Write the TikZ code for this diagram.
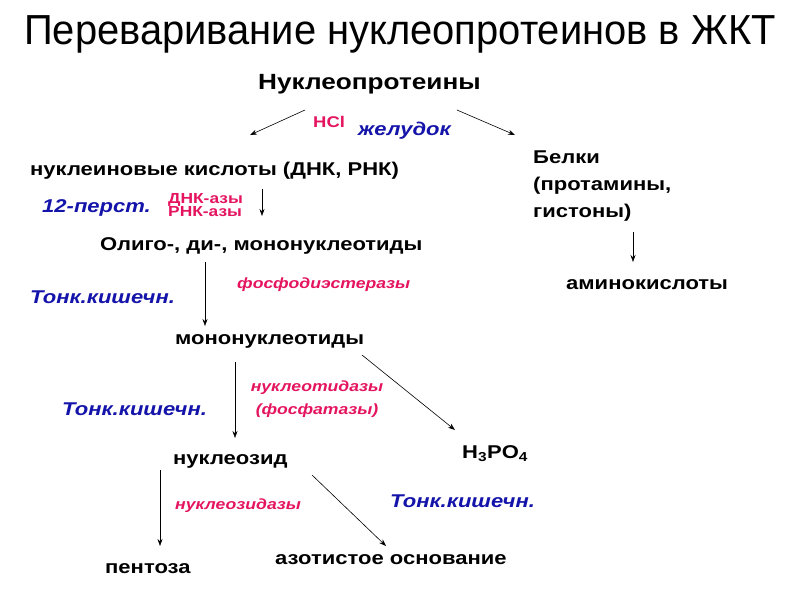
\documentclass[tikz,border=0pt]{standalone}
\usepackage{fontspec}
\setmainfont{Liberation Sans}[FakeStretch=1.19]
\newfontfamily\titlefont{Liberation Sans}[FakeStretch=0.95]
\usepackage{tikz}
\usetikzlibrary{arrows.meta}

\definecolor{enzcol}{RGB}{228,20,95}
\definecolor{sitecol}{RGB}{20,20,170}

\tikzset{
  term/.style={font=\bfseries\fontsize{18.5}{27}\selectfont, inner sep=0pt, anchor=west},
  enzyme/.style={font=\bfseries\itshape\fontsize{14.8}{23}\selectfont, text=enzcol, inner sep=0pt, anchor=west},
  site/.style={font=\bfseries\itshape\fontsize{18.5}{20}\selectfont, text=sitecol, inner sep=0pt, anchor=west},
  reac/.style={-{Stealth[length=7pt,width=5pt]}, line width=0.6pt},
}

\begin{document}
\begin{tikzpicture}[x=1pt,y=-1pt]
    \useasboundingbox (0,0) rectangle (800,600);

    % Title
    \node[font=\titlefont\fontsize{42}{44}\selectfont, inner sep=0pt] (title) at (400,34) {Переваривание нуклеопротеинов в ЖКТ};

    % Define coordinates
    \node[term, font=\bfseries\fontsize{22}{24}\selectfont] (np) at (258,84) {Нуклеопротеины};
    \node[term] (nk) at (30,171) {нуклеиновые кислоты (ДНК, РНК)};
    \node[term, align=left, anchor=north west] (prot) at (533,151) {Белки\\(протамины,\\гистоны)};
    \node[term] (oligo) at (100,246) {Олиго-, ди-, мононуклеотиды};
    \node[term] (mono) at (175,341) {мононуклеотиды};
    \node[term] (nzid) at (173,461) {нуклеозид};
    \node[term] (h3po4) at (462,454) {H\textsubscript{3}PO\textsubscript{4}};
    \node[term] (pent) at (105,569) {пентоза};
    \node[term] (azot) at (275,560) {азотистое основание};
    \node[term] (amino) at (566,285) {аминокислоты};

    % Enzymes and sites
    \node[enzyme, font=\bfseries\fontsize{15.5}{18}\selectfont] (hcl) at (313,122) {HCl};
    \node[site] (stom) at (358,131) {желудок};
    \node[site] (duo) at (42,208) {12-перст.};
    \node[enzyme, font=\bfseries\fontsize{14.6}{13.5}\selectfont, align=left] (dnase) at (168,205) {ДНК-азы\\РНК-азы};
    \node[site] (gut1) at (30,297) {Тонк.кишечн.};
    \node[enzyme] (pde) at (237,285) {фосфодиэстеразы};
    \node[site] (gut2) at (62,409) {Тонк.кишечн.};
    \node[enzyme, anchor=center, align=center] (ntase) at (317,399) {нуклеотидазы\\(фосфатазы)};
    \node[enzyme] (nsase) at (175,506) {нуклеозидазы};
    \node[site] (gut3) at (390,501) {Тонк.кишечн.};

    % Arrow ends
    \coordinate (a1s) at (305,110);
    \coordinate (a1e) at (250,135);
    \coordinate (a2s) at (457,110);
    \coordinate (a2e) at (515,135);
    \coordinate (a3s) at (262,189);
    \coordinate (a3e) at (262,216);
    \coordinate (a4s) at (633,232);
    \coordinate (a4e) at (633,262);
    \coordinate (a5s) at (205,262);
    \coordinate (a5e) at (205,326);
    \coordinate (a6s) at (235,362);
    \coordinate (a6e) at (235,438);
    \coordinate (a7s) at (362,355);
    \coordinate (a7e) at (455,430);
    \coordinate (a8s) at (160,470);
    \coordinate (a8e) at (160,546);
    \coordinate (a9s) at (312,475);
    \coordinate (a9e) at (386,546);

    % Draw arrows
    \draw[reac] (a1s) -- (a1e);
    \draw[reac] (a2s) -- (a2e);
    \draw[reac] (a3s) -- (a3e);
    \draw[reac] (a4s) -- (a4e);
    \draw[reac] (a5s) -- (a5e);
    \draw[reac] (a6s) -- (a6e);
    \draw[reac] (a7s) -- (a7e);
    \draw[reac] (a8s) -- (a8e);
    \draw[reac] (a9s) -- (a9e);
\end{tikzpicture}
\end{document}
